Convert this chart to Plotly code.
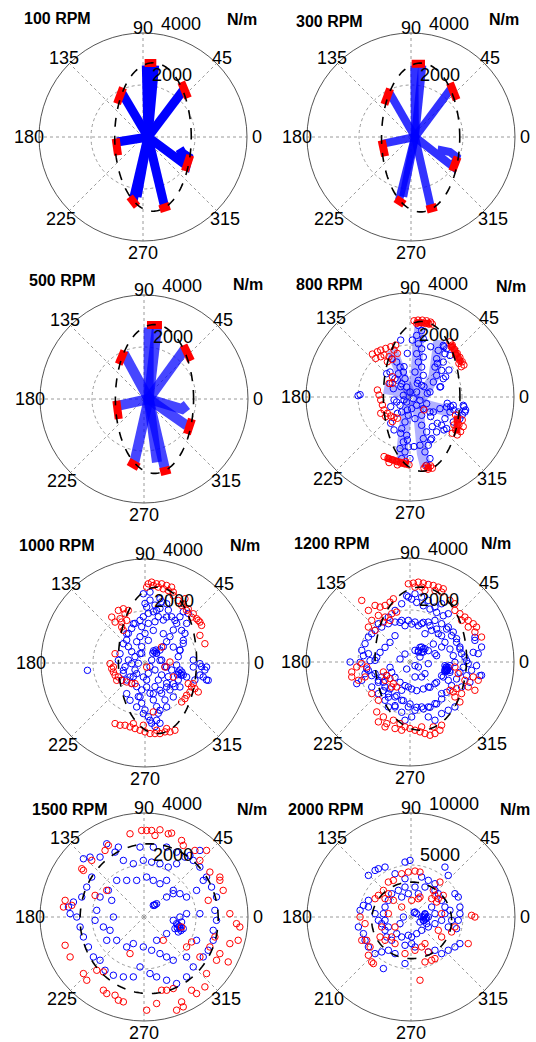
import numpy as np
import plotly.graph_objects as go

# ---------------- data ----------------
TITLES = ["100 RPM", "300 RPM", "500 RPM", "800 RPM", "1000 RPM", "1200 RPM", "1500 RPM", "2000 RPM"]
RMAX = [4000, 4000, 4000, 4000, 4000, 4000, 4000, 10000]
RTICKS = [[2000, 4000]] * 7 + [[5000, 10000]]
ANGLE_VALS = [0, 45, 90, 135, 180, 225, 270, 315]
ANGLE_TEXT = ["0", "45", "90", "135", "180", "225", "270", "315"]
ANGLE_TEXT_2000 = ["0", "45", "90", "135", "180", "210", "270", "315"]

# dashed limit ellipses (centre x, centre y, semi-axes) in N/m
ELL_CX = [384, 371, 403, 448, 480, 416, 198, 64]
ELL_CY = [0, -19, 0, 26, 102, 128, -64, -320]
ELL_A = [1472, 1504, 1504, 1472, 1504, 1760, 2656, 3840]
ELL_B = [2854, 2861, 2861, 2880, 2816, 2752, 2880, 3680]

# ---- 100 RPM spokes (hub -> end points) and red end segments, Fx/Fy in N/m
HUB_100 = [192, 0]
SPOKES_100 = [[[128, 2752]], [[448, 2752]], [[1562, 1818]], [[-832, 1728]], [[-998, -192]],
              [[1664, -1088], [1741, -768], [1510, -614], [1408, -448]],
              [[-384, -2458]], [[-230, -2304]], [[832, -2688]]]
CAPS_100 = [[[64, 2842], [512, 2842]], [[1472, 2112], [1728, 1498]], [[-768, 1894], [-998, 1280]],
            [[-1050, -64], [-960, -704]], [[1818, -704], [1613, -1306]],
            [[-512, -2304], [-230, -2662]], [[640, -2778], [1024, -2650]]]

HUB_300 = [154, 0]
SPOKES_300 = [[[128, 2752]], [[435, 2752]], [[1562, 1894]], [[-845, 1728]], [[-1062, -256]],
              [[1626, -1152], [1754, -768], [1498, -576], [1178, -512], [1152, -704]],
              [[-461, -2432]], [[-300, -2300]], [[768, -2714]]]
CAPS_300 = [[[26, 2816], [538, 2816]], [[1498, 2074], [1754, 1434]], [[-806, 1856], [-1024, 1254]],
            [[-1126, -128], [-998, -742]], [[1792, -768], [1587, -1306]],
            [[-589, -2368], [-256, -2586]], [[602, -2790], [986, -2688]]]

HUB_500 = [179, 0]
SPOKES_500 = [[[179, 2752]], [[499, 2752]], [[1587, 1946]], [[-781, 1766]], [[-973, -256]],
              [[1651, -1024]], [[1459, -384], [1651, -230]],
              [[-371, -2432]], [[499, -2432]], [[819, -2752]]]
CAPS_500 = [[[115, 2842], [691, 2842]], [[1523, 2074], [1805, 1472]], [[-755, 1856], [-973, 1344]],
            [[-1062, -64], [-973, -768]], [[1843, -768], [1651, -1344]],
            [[-589, -2406], [-205, -2624]], [[627, -2816], [1011, -2714]]]

# ---- 800 RPM
BANDS_800 = [[[154, 13], [256, 1165], [307, 2061], [384, 2701]],
             [[410, -115], [922, 781], [1050, 1677], [1114, 2189]],
             [[-38, -115], [-205, -1139], [-294, -1907], [-294, -2419]],
             [[307, -371], [410, -1395], [474, -2163], [602, -2675]],
             [[26, 77], [-294, 781], [-550, 1421], [-678, 1805]],
             [[90, -115], [794, -371], [1306, -499], [1562, -627]],
             [[26, 13], [-614, 269], [-998, 333]]]
CAPS_800 = [[[200, 2870], [800, 2830]], [[1560, 2050], [1990, 1280]], [[1830, -720], [1800, -1400]],
            [[-950, -2330], [-60, -2600]], [[560, -2720], [840, -2720]]]
BLUE_800 = [(-1997, 51), (-486, 653), (-358, 397), (-230, -115), (-614, -115), (282, 525), (538, 397),
            (666, 141), (-102, -499), (-486, -627), (-742, -371), (794, -755), (1050, -1011), (1306, -1267),
            (1434, -243), (1562, -371), (1690, -499), (2074, -371), (2138, -499), (2010, -691), (-358, -1395),
            (-102, -1651), (154, -1907), (794, -1651), (858, -1139), (-742, -1011), (-614, -1267), (1050, 1293),
            (1306, 1933), (794, 1933), (-102, 1677), (90, 2189), (-358, 2189), (-230, 1165), (1178, 397),
            (1370, 781), (1498, 1037),
            (320, 2752), (448, 2560), (256, 2368), (512, 2240), (320, 2048), (448, 1856), (256, 1664),
            (512, 1536), (320, 1344), (448, 1152), (192, 960), (512, 832), (320, 640), (448, 448), (256, 192),
            (1280, 1984), (1088, 1792), (1344, 1664), (1024, 1472), (1280, 1344), (960, 1152), (1216, 1024),
            (1024, 832), (1280, 704), (896, 576), (1152, 384), (768, 192), (1408, 1856), (1536, 1600),
            (-704, 1472), (-512, 1344), (-384, 1152), (-256, 960), (-448, 896), (-576, 704), (-192, 704),
            (-320, 512), (-128, 384), (-640, 320), (-768, 512), (-896, 896),
            (0, 192), (128, -64), (-128, -192), (256, -320), (64, -448), (384, -128), (-256, 64), (-384, -320),
            (-512, -192), (512, -448), (640, -256), (768, -576), (448, -704), (192, -832), (-64, -704),
            (-320, -576), (896, -576), (1152, -448), (1408, -384), (1664, -320), (1536, -576), (1344, -832),
            (1216, -1088), (1024, -1344), (1408, -1216), (1664, -960), (1856, -576), (2048, -320),
            (2112, -576), (1920, -832), (-192, -960), (-320, -1216), (-128, -1472), (-256, -1728),
            (-64, -1920), (-192, -2112), (0, -2368), (-320, -2368), (-384, -1984), (448, -1088), (640, -1344),
            (512, -1600), (704, -1856), (576, -2112), (768, -2368), (640, -2624), (832, -1600), (384, -1856),
            (-1920, 90), (-768, 960)]
RED_800 = [(154, 2931), (307, 2957), (474, 2957), (640, 2931), (794, 2880), (256, 2829), (435, 2854),
           (602, 2829), (730, 2803), (858, 2803), (1536, 2125), (1626, 1997), (1715, 1830), (1818, 1677),
           (1920, 1523), (2010, 1357), (2074, 1229), (1882, 1293), (1754, 1613), (1587, 1933), (1971, 1165),
           (-1446, 1651), (-1254, 1741), (-1126, 1805), (-934, 1869), (-742, 1933), (-550, 1997), (-998, 1613),
           (-806, 1549), (-678, 1446), (-1126, 1549), (-1318, 1485), (-870, 1357), (-614, 1805), (-486, 1677),
           (-1254, 269), (-1190, 77), (-1126, -115), (-1062, -307), (-998, -499), (-870, -627), (-742, -730),
           (-614, -781), (-486, -819), (-934, -755), (-1126, -627), (-678, -947), (-806, 525), (-678, 781),
           (1754, -691), (1818, -883), (1882, -1075), (1754, -1267), (1818, -1459), (1946, -1331),
           (2048, -1139), (2010, -883), (1626, -1395), (1690, -1075), (-998, -2291), (-845, -2355),
           (-678, -2419), (-512, -2483), (-358, -2547), (-205, -2573), (-38, -2611), (-806, -2522),
           (-486, -2611), (-166, -2483), (538, -2739), (691, -2778), (858, -2739), (602, -2650), (794, -2650),
           (538, -499), (-678, 525)]

# ---- 1000 RPM
BLUE_1000 = [(-2214, -282), (-64, 2662), (192, 2726), (576, 2470), (832, 2278), (64, 2150), (448, 2022),
             (832, 1766), (1152, 1638), (1408, 1254), (1472, 870), (1344, 486), (1088, 614), (704, 1126),
             (320, 1254), (-192, 1638), (-448, 1510), (-704, 1126), (-832, 742), (-960, 358), (-1024, 102),
             (-832, -282), (-576, -538), (-320, -410), (-64, -538), (64, -922), (320, -1178), (576, -1050),
             (832, -922), (1088, -794), (1344, -922), (1600, -538), (1856, -154), (2112, -26), (2368, -154),
             (2432, -666), (2240, -538), (-192, -1306), (-320, -1690), (-64, -1946), (192, -2202), (448, -2202),
             (576, -1818), (832, -1690), (1088, -1306), (-576, -1434), (-704, -1178), (-896, -666), (832, -154),
             (576, 102), (128, 870), (-192, 358), (-512, -26), (384, 422), (330, 470), (440, 380), (300, 380),
             (420, 500), (1344, -410), (1290, -350), (1400, -470), (1250, -450), (1420, -350),
             (0, 2291), (192, 2419), (384, 2227), (576, 2099), (320, 1971), (128, 1907), (-64, 1779),
             (512, 1779), (704, 1651), (384, 1587), (128, 1523), (-128, 1395), (-384, 1523), (-512, 1331),
             (-640, 1139), (-704, 883), (-640, 627), (-512, 435), (-384, 243), (-640, 115), (-768, -141),
             (-832, -397), (-704, -653), (-512, -781), (-320, -909), (-128, -1037), (-256, -1293),
             (-128, -1549), (0, -1805), (128, -2061), (256, -2317), (384, -2445), (576, -2317), (512, -1933),
             (448, -1677), (320, -1421), (192, -1165), (384, -909), (512, -653), (640, -461), (384, -269),
             (192, -141), (256, 115), (448, 371), (576, 499), (704, 627), (832, 819), (960, 1011), (1088, 1267),
             (1216, 1523), (1344, 1779), (1472, 1971), (1664, 1907), (1600, 1523), (1536, 1139), (1472, 755),
             (1344, 499), (1280, 243), (1216, -77), (1344, -269), (1472, -461), (1280, -653), (1152, -909),
             (960, -1037), (832, -781), (896, -525), (1024, -269), (768, -141), (640, 115), (-128, 627),
             (-320, 819), (-192, 1011), (0, 1139), (1024, 1779), (896, 2035), (640, 2355), (-384, -269),
             (-448, -525), (640, -1165), (768, -1421), (64, -653), (128, -397), (-256, -13), (-128, 371),
             (2304, -269), (2368, -653), (2176, -141), (2112, -461), (1920, -653), (1856, 115)]
RED_1000 = [(256, 3110), (448, 3046), (640, 3046), (832, 2982), (1024, 2918), (320, 2982), (512, 2918),
            (704, 2854), (896, 2790), (1088, 2726), (128, 3046), (64, 2918), (1280, 2406), (1472, 2278),
            (1664, 2086), (1856, 1894), (1984, 1702), (2112, 1574), (2176, 1446), (1408, 2214), (1600, 2022),
            (1792, 1766), (2048, 1638), (2304, 742), (2112, 1062), (1088, 2598), (1536, 2470), (-1280, 1766),
            (-1024, 2022), (-832, 2086), (-640, 2022), (-768, 1894), (-960, 1702), (-896, 1574), (-704, 1638),
            (-1152, 1574), (-896, 1382), (-832, 1254), (-1344, -26), (-1280, -218), (-1216, -346),
            (-1152, -474), (-1024, -538), (-896, -666), (-704, -730), (-512, -794), (-384, -794), (-1088, -666),
            (-1216, -154), (-1152, 358), (1664, -794), (1792, -922), (1920, -986), (2048, -1114), (1728, -1114),
            (1600, -1242), (1536, -1370), (1408, -1498), (1856, -794), (-1152, -2330), (-960, -2394),
            (-768, -2394), (-576, -2458), (-384, -2522), (-192, -2586), (0, -2650), (192, -2714), (384, -2714),
            (576, -2714), (768, -2650), (960, -2650), (1152, -2586), (-448, -2330), (-64, -2394), (448, -2586),
            (832, -2522), (640, 614), (960, 38), (768, -154), (64, -154), (1088, -538), (320, -1882)]

# ---- 1200 RPM
BLUE_1200 = [(-2304, 0), (-2048, -832), (-1856, -704), (-1728, -448), (-1600, -320), (-1600, 960),
             (-1344, 1216), (-1088, 1344), (-832, 1472), (-576, 1536), (-320, 1600), (-64, 1600), (192, 1536),
             (448, 1472), (704, 1536), (960, 1600), (1216, 1472), (1472, 1344), (1664, 1152), (1792, 896),
             (1920, 576), (1984, 320), (2112, 192), (2240, -64), (2368, -320), (2752, -512), (2624, 320),
             (2752, 576), (2496, 832), (-64, 2496), (192, 2624), (448, 2496), (704, 2368), (960, 2112),
             (1216, 2240), (1472, 1856), (-320, 2240), (-576, 1984), (-832, 1728), (-1216, 1472),
             (-1472, 1088), (-1728, 704), (-1856, 448), (-1600, 320), (-1344, 64), (-1088, -576), (-960, -960),
             (-832, -1216), (-576, -1344), (-320, -1472), (-64, -1728), (192, -1856), (448, -1728),
             (704, -1728), (960, -1600), (1216, -1216), (1472, -704), (1536, -320), (1408, -192), (1344, -384),
             (1280, -576), (960, -832), (704, -960), (448, -576), (320, -192), (448, 576), (576, 512),
             (320, 384), (192, 448), (384, 192), (512, 384), (576, 1088), (832, 1216), (1088, 1088),
             (1216, 576), (960, 320), (704, -64), (576, -448), (192, -576), (-64, -960), (-320, -1088),
             (-576, -1728), (-832, -1728), (-960, -1472), (-1216, -1216), (-1472, -960), (-1216, -704),
             (-1344, -448), (1984, -960), (1728, -1728), (1472, -1856), (1216, -1984), (960, -2240),
             (704, -2112), (64, -2112), (-192, -2240), (1408, -256), (1450, -300), (1380, -200), (1420, -330),
             (1350, -280),
             (-128, 2547), (64, 2419), (256, 2291), (512, 2163), (768, 2035), (1024, 1907), (1280, 1779),
             (-384, 1523), (-192, 1395), (64, 1459), (320, 1395), (512, 1523), (768, 1395), (1024, 1267),
             (1216, 1011), (1344, 755), (1536, 499), (1664, 243), (1728, -13), (1536, -141), (1344, -333),
             (1216, -525), (1024, -781), (768, -973), (512, -1037), (256, -1101), (64, -1037), (-192, -909),
             (-384, -781), (-576, -589), (-704, -397), (-768, -205), (-896, -525), (-1024, -781),
             (-768, -1037), (-512, -1293), (-256, -1485), (0, -1613), (256, -1741), (512, -1805),
             (768, -1741), (1024, -1613), (1216, -1421), (1408, -1165), (1600, -909), (1792, -653),
             (1920, -397), (2048, -205), (2176, 51), (1920, 499), (1792, 755), (1600, 1011), (1408, 1267),
             (-576, 1011), (-768, 755), (-960, 563), (-1152, 371), (-1280, 179), (-1536, 51), (-1792, 243),
             (-1920, -13), (-1664, -269), (-1472, -525), (-1216, -781), (-1024, -1101), (-832, -1357),
             (-576, -1677), (-320, -1933), (320, 435), (448, 371), (384, 563), (512, 499), (1472, -205),
             (1408, -333), (1536, -397), (1344, -141), (2176, -525), (2304, -781), (2560, -141), (2688, -525),
             (2432, 371), (2496, 947), (704, 435), (896, 691), (1024, 243), (-192, 307), (-384, 115),
             (-128, -269), (192, -141)]
RED_1200 = [(-64, 3008), (128, 3034), (320, 3072), (512, 3034), (704, 2982), (896, 2944), (1088, 2880),
            (1280, 2816), (192, 2880), (448, 2880), (960, 2752), (1216, 2688), (576, 2752), (-1856, 2368),
            (-1600, 1984), (-1344, 2176), (-1152, 2112), (-960, 2176), (-768, 2304), (-640, 2432),
            (-1216, 1792), (-960, 1728), (-704, 1856), (-512, 1920), (-1472, 1600), (-1024, 1536), (-768, 1600),
            (-1600, 1344), (-1344, 1216), (1728, 1984), (1920, 1856), (2112, 1728), (2240, 1600), (2432, 1472),
            (2560, 1344), (1984, 1600), (2240, 1344), (2496, 1152), (2752, 960), (1728, 2240), (1536, 2368),
            (-2240, -384), (-2048, -192), (-1856, -64), (-1664, -192), (-2240, -576), (-1984, -704),
            (-1728, -576), (-1024, -384), (-896, -512), (-768, -640), (-640, -832), (-512, -960), (-960, -704),
            (-704, -960), (-1472, -1216), (-1216, -1472), (1536, -1088), (1664, -1152), (1792, -1024),
            (1984, -1216), (1920, -1536), (1728, -1344), (2112, -704), (2240, -960), (2496, -1088),
            (2624, -704), (2432, -576), (1856, -448), (1728, -192), (-1280, -1920), (-1024, -2112),
            (-1216, -2304), (-896, -2368), (-640, -2240), (-384, -2368), (-192, -2496), (0, -2560),
            (192, -2624), (384, -2688), (576, -2752), (768, -2816), (960, -2752), (1152, -2624), (1216, -2432),
            (896, -2496), (448, -2496), (-320, -2624), (-576, -2560), (-960, -2496)]

# ---- 1500 RPM
BLUE_1500 = [(-1434, 2816), (-1114, 2496), (-794, 2176), (-410, 2048), (-26, 2176), (294, 2112), (614, 2048),
             (934, 1920), (1254, 2048), (1574, 2304), (1894, 2176), (2150, 1920), (2406, 1536), (2598, 1152),
             (2790, 768), (2726, 256), (2790, -128), (2662, -512), (2662, -896), (2470, -1280), (2278, -1536),
             (1894, -1920), (1638, -2304), (1254, -2560), (870, -2432), (486, -2304), (230, -2176),
             (-154, -1920), (-410, -2304), (-794, -2304), (-1178, -2240), (-1498, -2048), (-1690, -1664),
             (-1946, -1536), (-2138, -1152), (-2330, -768), (-2458, -384), (-2586, 0), (-2842, 128),
             (-2906, 384), (-2714, 576), (-2394, 768), (-2202, 1152), (-2010, 1536), (-2330, 2240),
             (-2074, 2304), (-1690, 2304), (-986, 2688), (-154, 2688), (358, 2688), (870, 2688), (1254, 2496),
             (1766, 2368), (2150, 2560), (2278, 1408), (2022, 1024), (1638, 768), (1382, 896), (1126, 1024),
             (870, 1408), (614, 1280), (358, 1408), (102, 1536), (-282, 1408), (-666, 1408), (-1050, 1408),
             (-1370, 1024), (-1242, 640), (-1690, 768), (-1818, 256), (-1882, -128), (-1562, -384),
             (-1306, -512), (-1050, -896), (-666, -1152), (-410, -1024), (-26, -1152), (294, -1280),
             (614, -1408), (870, -1536), (1126, -1664), (1638, -1536), (2022, -896), (2150, 128), (1638, 128),
             (1382, 0), (1126, -128), (870, -640), (486, -896), (358, 448), (486, 512), (1254, -256),
             (1382, -384), (1510, -448), (1318, -576), (1190, -448), (1446, -192), (1126, 896), (870, 768),
             (-1178, 0), (-1434, -896), (1350, -350), (1400, -450), (1300, -300), (1420, -520), (1280, -420),
             (400, 450), (420, 470)]
RED_1500 = [(-90, 3328), (102, 3328), (294, 3328), (614, 3354), (934, 3200), (422, 3136), (1062, 3226),
            (1446, 2944), (1510, 2752), (-538, 3200), (-1498, 2560), (-1370, 2752), (-2010, 2176),
            (-2394, 1856), (-2330, 1792), (-1434, 1024), (-1882, 832), (-3034, 640), (-3098, 384),
            (-2778, 448), (-3034, -1088), (-2842, -1536), (-2330, -2176), (-2202, -2432), (-1562, -2112),
            (-1562, -2816), (-1114, -3008), (-986, -3200), (-794, -3264), (102, -3584), (678, -2816),
            (870, -2816), (1126, -2752), (1254, -3584), (1446, -3264), (1510, -3456), (1830, -2816),
            (2022, -2944), (2342, -2688), (2406, -2176), (2790, -1664), (3238, -1728), (3302, -1024),
            (3622, -896), (3686, -384), (3558, -256), (3302, 128), (3046, 1024), (2918, 1408), (2534, 1728),
            (2150, 2176), (1958, 2560), (2406, 2560), (2918, 1536), (1638, -1152), (1830, -960),
            (2150, -1536), (2534, -1152), (2726, -768), (2470, 640), (1446, -384), (742, -896), (-538, -1408),
            (-1818, -2048), (-1434, -2944), (486, -3328), (2918, -1408)]

# ---- 2000 RPM
BLUE_2000 = [(-96, 5440), (-576, 5280), (-4096, 4000), (-3456, 4480), (-3136, 4640), (-2496, 4800),
             (-1536, 4160), (-576, 3680), (1024, 3840), (1664, 3520), (2304, 3200), (3264, 4800), (3584, 4000),
             (4224, 2240), (4544, 1920), (4704, 960), (4704, 320), (4544, -320), (4384, -1120), (4704, -2560),
             (4224, -2880), (3584, -3200), (2944, -3520), (2304, -3200), (1664, -3360), (384, -2880),
             (64, -2560), (-576, -2720), (-576, -4480), (-1536, -3520), (-2176, -3200), (-2816, -3360),
             (-2656, -4960), (-3456, -3520), (-4096, -2880), (-4416, -2240), (-4576, -1600), (-5056, -960),
             (-4896, 640), (-4576, 1120), (-4096, 1600), (-4096, 960), (-3456, 320), (-3136, -320),
             (-2816, -640), (-2496, -1280), (-2336, -1920), (-1856, -2240), (-1376, -1600), (-896, -1920),
             (-256, -1760), (64, -1920), (544, -1600), (1024, -1280), (1664, -960), (2304, -640), (2944, -320),
             (3264, 320), (3264, 960), (2944, 1600), (2624, 2240), (2304, 2560), (1344, 2880), (384, 2880),
             (-576, 2880), (-1216, 2560), (-1856, 2240), (-2176, 1600), (-2496, 960), (-2656, 320),
             (-2496, -320), (-2176, -960), (1024, 0), (1184, -320), (1344, 320), (864, -480), (1504, -640),
             (1664, 0), (544, 320), (384, 480), (-896, 1920), (-256, 2240), (704, 2240), (1984, 960),
             (2304, 320), (3584, -960), (3904, -320), (3744, 640), (-1056, -640), (-736, 0), (1300, 100),
             (1400, -200), (1250, -350), (1500, -100), (1350, 250), (1200, 0), (300, 420)]
RED_2000 = [(-256, 4320), (384, 4416), (864, 4320), (-896, 4160), (-1696, 3520), (-2176, 3360),
            (-2656, 2560), (-3136, 2080), (2784, 3360), (2144, 2560), (2304, 2080), (2624, 1760), (3104, 2080),
            (1984, 1760), (2464, 1440), (864, 1920), (704, 1760), (-2176, 2240), (-2496, 1760), (-1696, 1600),
            (-3456, 1760), (-4896, 0), (-4416, -640), (-4736, -2240), (-4256, -2240), (-3936, -2880),
            (-4096, -3680), (-3776, -4320), (-3616, -4480), (-2976, -1920), (-2496, -2240), (-1856, -1920),
            (-1536, -2560), (-576, -3520), (384, -3200), (1024, -2880), (1344, -2560), (1664, -3360),
            (1984, -4160), (2304, -4000), (1344, -4320), (864, -6080), (2624, -1280), (2944, -1920),
            (3904, -1440), (4224, -960), (5504, -2560), (5824, 160), (6144, 0), (-1536, -960), (-2816, -960),
            (2944, 320), (-896, 960), (-2176, 320), (64, 1600)]

SPOKES = {0: (HUB_100, SPOKES_100, CAPS_100, 9, 1.0),
          1: (HUB_300, SPOKES_300, CAPS_300, 8, 0.8),
          2: (HUB_500, SPOKES_500, CAPS_500, 10, 0.72)}
SCATTER = {3: (BANDS_800, CAPS_800, BLUE_800, RED_800),
           4: ([], [], BLUE_1000, RED_1000),
           5: ([], [], BLUE_1200, RED_1200),
           6: ([], [], BLUE_1500, RED_1500),
           7: ([], [], BLUE_2000, RED_2000)}

# ---------------- layout geometry ----------------
W, H = 536, 1042
CENTERS = [(143, 137), (411, 137), (144, 399), (410, 397), (145, 663), (410, 662), (144, 917), (411, 917)]
RPX = 104
LABEL_FACTORS = [1.1, 1.07, 1.05, 1.07, 1.1, 1.12, 1.12, 1.12]
TITLE_POS = [(57, 18), (330, 21), (62, 280), (330, 285), (57, 545), (332, 543), (70, 809), (326, 809)]
NM_POS = [(242, 20), (504, 20), (248, 284), (511, 286), (245, 545), (496, 543), (252, 809), (515, 809)]
FONT = "Liberation Sans, Arial, sans-serif"
BLUE = "#0000ff"
RED = "#ff0000"


def to_polar(pts):
    a = np.asarray(pts, dtype=float)
    return np.hypot(a[:, 0], a[:, 1]), np.degrees(np.arctan2(a[:, 1], a[:, 0]))


fig = go.Figure()


def add_line(pts, sub, color, width, opacity=1.0, dash=None):
    r, t = to_polar(pts)
    fig.add_trace(go.Scatterpolar(r=r, theta=t, mode="lines", subplot=sub, opacity=opacity,
                                  line=dict(color=color, width=width, dash=dash),
                                  showlegend=False, hoverinfo="skip"))


def add_pts(pts, sub, color):
    r, t = to_polar(pts)
    fig.add_trace(go.Scatterpolar(r=r, theta=t, mode="markers", subplot=sub,
                                  marker=dict(symbol="circle-open", size=6.5, color=color, line=dict(width=1)),
                                  showlegend=False, hoverinfo="skip"))


for i in range(8):
    sub = "polar" if i == 0 else f"polar{i + 1}"
    if i in SPOKES:
        hub, spokes, caps, w, op = SPOKES[i]
        for s in spokes:
            add_line([hub] + s, sub, BLUE, w, op)
        for c in caps:
            add_line(c, sub, RED, 8)
    else:
        bands, caps, blue, red = SCATTER[i]
        for b in bands:
            add_line(b, sub, BLUE, 11, 0.3)
        add_pts(blue, sub, BLUE)
        for c in caps:
            add_line(c, sub, RED, 7, 0.9)
        add_pts(red, sub, RED)
    # dashed ellipse
    tt = np.linspace(0, 2 * np.pi, 181)
    ex = ELL_CX[i] + ELL_A[i] * np.cos(tt)
    ey = ELL_CY[i] + ELL_B[i] * np.sin(tt)
    add_line(np.column_stack([ex, ey]), sub, "black", 1.6, 1.0, "dash")
    # radial tick labels
    fig.add_trace(go.Scatterpolar(r=RTICKS[i], theta=[80, 80], mode="text", subplot=sub,
                                  text=[str(v) for v in RTICKS[i]], textposition="top right",
                                  textfont=dict(family=FONT, size=18, color="black"),
                                  cliponaxis=False, showlegend=False, hoverinfo="skip"))

    cx, cy = CENTERS[i]
    fig.update_layout(**{sub: dict(
        domain=dict(x=[(cx - RPX) / W, (cx + RPX) / W], y=[(H - cy - RPX) / H, (H - cy + RPX) / H]),
        bgcolor="white",
        angularaxis=dict(tickmode="array", tickvals=ANGLE_VALS, showticklabels=False,
                         showgrid=True, gridcolor="#9a9a9a", griddash="dot", gridwidth=1,
                         showline=True, linecolor="#555555", linewidth=1, ticks="",
                         direction="counterclockwise", rotation=0),
        radialaxis=dict(range=[0, RMAX[i]], tickvals=RTICKS[i], showticklabels=False, showline=False,
                        ticks="", showgrid=True, gridcolor="#9a9a9a", griddash="dot", gridwidth=1),
    )})
    # angular labels just outside the rim (MATLAB style)
    labels = ANGLE_TEXT_2000 if i == 7 else ANGLE_TEXT
    for ang, lab, fac in zip(ANGLE_VALS, labels, LABEL_FACTORS):
        px = cx + fac * RPX * np.cos(np.radians(ang))
        py = cy - fac * RPX * np.sin(np.radians(ang))
        fig.add_annotation(x=px / W, y=1 - py / H, xref="paper", yref="paper", text=lab,
                           xanchor="center", yanchor="middle", showarrow=False,
                           font=dict(family=FONT, size=18, color="black"))
    tx, ty = TITLE_POS[i]
    nx, ny = NM_POS[i]
    fig.add_annotation(x=tx / W, y=1 - ty / H, xref="paper", yref="paper", text=f"<b>{TITLES[i]}</b>",
                       xanchor="center", yanchor="middle",
                       showarrow=False, font=dict(family=FONT, size=16, color="black"))
    fig.add_annotation(x=nx / W, y=1 - ny / H, xref="paper", yref="paper", text="<b>N/m</b>",
                       xanchor="center", yanchor="middle",
                       showarrow=False, font=dict(family=FONT, size=16, color="black"))

fig.update_layout(width=W, height=H, margin=dict(l=0, r=0, t=0, b=0),
                  paper_bgcolor="white", plot_bgcolor="white", showlegend=False)
fig.write_html("out.html")
